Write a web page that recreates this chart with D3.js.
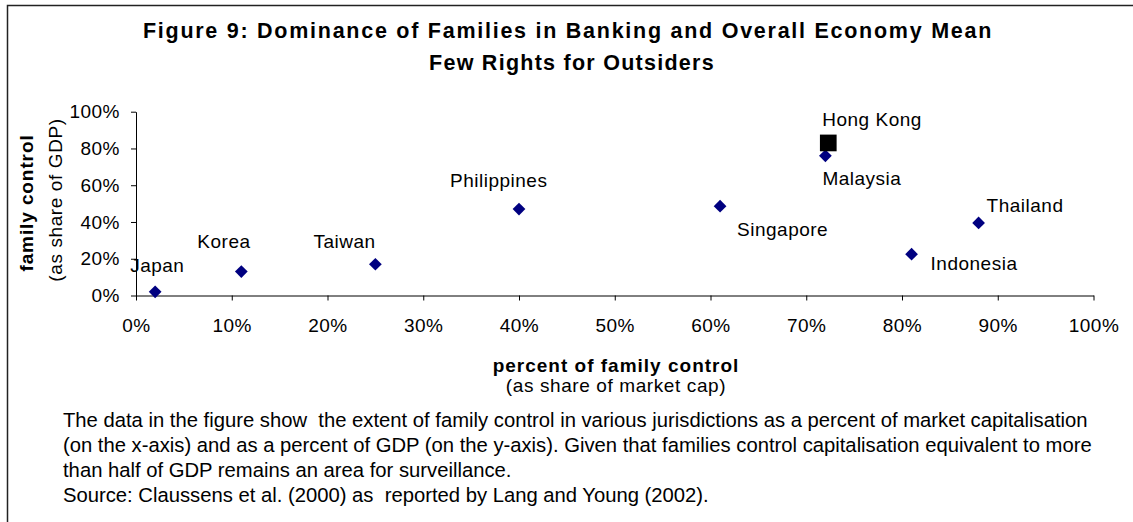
<!DOCTYPE html>
<html>
<head>
<meta charset="utf-8">
<script src="https://cdn.jsdelivr.net/npm/d3@7"></script>
<style>
  html, body { margin: 0; padding: 0; background: #fff; }
  svg { display: block; font-family: "Liberation Sans", Arial, sans-serif; }
  text { white-space: pre; }
</style>
</head>
<body>
<svg id="chart" width="1133" height="522"></svg>
<script>
// ---- data ----
const countries = ["Japan", "Korea", "Taiwan", "Philippines", "Singapore", "Malaysia", "Hong Kong", "Indonesia", "Thailand"];
const shareOfMarketCap = [0.02, 0.11, 0.25, 0.40, 0.61, 0.72, 0.723, 0.81, 0.88];
const shareOfGDP = [0.02, 0.13, 0.17, 0.47, 0.486, 0.76, 0.83, 0.225, 0.395];
const xTicks = [0, 0.1, 0.2, 0.3, 0.4, 0.5, 0.6, 0.7, 0.8, 0.9, 1.0];
const yTicks = [0, 0.2, 0.4, 0.6, 0.8, 1.0];
const titleLines = ["Figure 9: Dominance of Families in Banking and Overall Economy Mean", "Few Rights for Outsiders"];
const xTitle = ["percent of family control", "(as share of market cap)"];
const yTitle = ["family control", "(as share of GDP)"];
const noteLines = [
  "The data in the figure show  the extent of family control in various jurisdictions as a percent of market capitalisation",
  "(on the x-axis) and as a percent of GDP (on the y-axis). Given that families control capitalisation equivalent to more",
  "than half of GDP remains an area for surveillance.",
  "Source: Claussens et al. (2000) as  reported by Lang and Young (2002)."
];

// ---- layout (label offsets from the marker, in px) ----
const labelOffsets = {
  "Japan": [-25, -20], "Korea": [-44, -24], "Taiwan": [-62, -16], "Philippines": [-69, -22],
  "Singapore": [17, 30], "Malaysia": [-3, 29], "Hong Kong": [-6, -17], "Indonesia": [19, 16], "Thailand": [8, -11]
};

const svg = d3.select("#chart");
const FS = 19;

// frame
svg.append("path")
  .attr("d", "M7.5,523 L7.5,5.5 L1134,5.5")
  .attr("fill", "none").attr("stroke", "#222").attr("stroke-width", 1.5);

const x = d3.scaleLinear().domain([0, 1]).range([136, 1093.5]);
const y = d3.scaleLinear().domain([0, 1]).range([295.5, 111.7]);

// title
const titleTargets = [[568, 37.5, 850], [572, 70, 286]];
titleLines.forEach((t, i) => {
  const el = svg.append("text")
    .attr("x", titleTargets[i][0]).attr("y", titleTargets[i][1])
    .attr("text-anchor", "middle")
    .attr("font-size", 21.5).attr("font-weight", "bold").attr("fill", "#000")
    .text(t);
  const w = el.node().getComputedTextLength();
  el.attr("letter-spacing", ((titleTargets[i][2] - w) / t.length).toFixed(2) + "px");
});

// axes
const xAxis = d3.axisBottom(x).tickValues(xTicks).tickFormat(d3.format(".0%"))
  .tickSize(5).tickSizeOuter(0).tickPadding(18);
const yAxis = d3.axisLeft(y).tickValues(yTicks).tickFormat(d3.format(".0%"))
  .tickSize(5).tickSizeOuter(0).tickPadding(11);

const gx = svg.append("g").attr("transform", `translate(0,${y(0)})`).call(xAxis);
const gy = svg.append("g").attr("transform", `translate(${x(0)},0)`).call(yAxis);
[gx, gy].forEach(g => {
  g.selectAll("text").attr("font-size", FS).attr("font-family", "Liberation Sans, Arial, sans-serif")
    .attr("fill", "#000").attr("letter-spacing", "0.5px");
  g.selectAll("line,path").attr("stroke", "#000").attr("stroke-width", 1);
});

// y axis titles
svg.append("text")
  .attr("transform", "translate(33,203) rotate(-90)")
  .attr("text-anchor", "middle").attr("font-size", FS).attr("font-weight", "bold")
  .attr("letter-spacing", "0.9px").attr("fill", "#000").text(yTitle[0]);
svg.append("text")
  .attr("transform", "translate(62,200) rotate(-90)")
  .attr("text-anchor", "middle").attr("font-size", FS)
  .attr("letter-spacing", "0.6px").attr("fill", "#000").text(yTitle[1]);

// x axis titles
svg.append("text").attr("x", 616).attr("y", 371.5)
  .attr("text-anchor", "middle").attr("font-size", FS).attr("font-weight", "bold")
  .attr("letter-spacing", "1px").attr("fill", "#000").text(xTitle[0]);
svg.append("text").attr("x", 616).attr("y", 392)
  .attr("text-anchor", "middle").attr("font-size", FS)
  .attr("letter-spacing", "0.6px").attr("fill", "#000").text(xTitle[1]);

// points
const pts = countries.map((c, i) => ({ c, x: shareOfMarketCap[i], y: shareOfGDP[i] }));
svg.append("g").selectAll("path").data(pts).join("path")
  .attr("transform", d => d.c === "Hong Kong"
    ? `translate(${x(d.x)},${y(d.y)})`
    : `translate(${x(d.x)},${y(d.y)}) rotate(45)`)
  .attr("d", d => d3.symbol().type(d3.symbolSquare).size(d.c === "Hong Kong" ? 279 : 81)())
  .attr("fill", d => d.c === "Hong Kong" ? "#000" : "#000080");

// labels
svg.append("g").selectAll("text").data(pts).join("text")
  .attr("x", d => x(d.x) + labelOffsets[d.c][0])
  .attr("y", d => y(d.y) + labelOffsets[d.c][1])
  .attr("font-size", FS).attr("letter-spacing", "0.5px").attr("fill", "#000")
  .text(d => d.c);

// note paragraph
const noteG = svg.append("g");
const noteBase = [427, 452, 477, 501.5];
const notes = noteLines.map((t, i) => noteG.append("text")
  .attr("x", 63).attr("y", noteBase[i]).attr("font-size", 18).attr("fill", "#000").text(t));
const w1 = notes[1].node().getComputedTextLength();
const fsNote = 18 * 1029 / w1;
notes.forEach(n => n.attr("font-size", fsNote.toFixed(2)));
</script>
</body>
</html>
